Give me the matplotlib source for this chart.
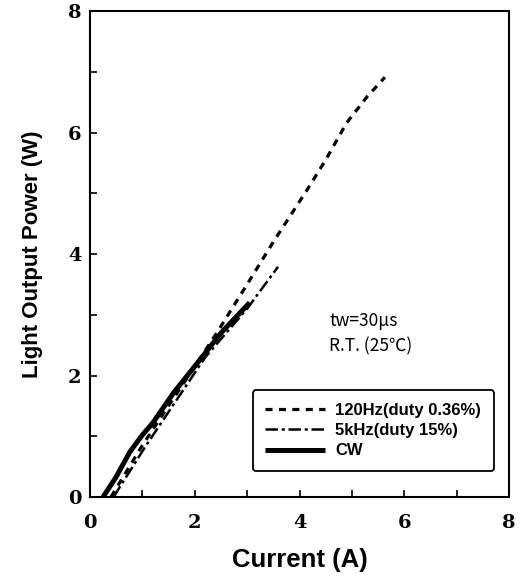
import matplotlib.pyplot as plt

i_120hz = [0.40, 1.00, 1.50, 2.00, 2.42, 3.05, 3.50, 4.14, 4.50, 4.90, 5.30, 5.63]
p_120hz = [0.00, 0.85, 1.50, 2.15, 2.70, 3.57, 4.20, 5.05, 5.55, 6.16, 6.60, 6.91]

i_5khz = [0.45, 1.05, 1.50, 2.20, 3.00, 3.59]
p_5khz = [0.00, 0.82, 1.40, 2.30, 3.10, 3.79]

i_cw = [0.25, 0.50, 0.76, 1.00, 1.20, 1.60, 2.00, 2.50, 3.05]
p_cw = [0.00, 0.33, 0.74, 1.02, 1.22, 1.72, 2.15, 2.70, 3.20]

labels = ["120Hz(duty 0.36%)", "5kHz(duty 15%)", "CW"]
x_ticks = [0, 2, 4, 6, 8]
y_ticks = [0, 2, 4, 6, 8]

fig = plt.figure(figsize=(5.2, 5.81), dpi=100)
ax = fig.add_axes([0.173, 0.1446, 0.806, 0.8364])

ax.plot(i_120hz, p_120hz, color="black", lw=2.3, dashes=(2.2, 2.0), label=labels[0])
ax.plot(i_5khz, p_5khz, color="black", lw=1.8, dashes=(5, 1.5, 1.2, 1.5), label=labels[1])
ax.plot(i_cw, p_cw, color="black", lw=3.6, solid_capstyle="butt", label=labels[2])

ax.set_xlim(0, 8)
ax.set_ylim(0, 8)
ax.set_xticks(range(9))
ax.set_yticks(range(9))
ax.set_xticklabels([str(v) if v in x_ticks else "" for v in range(9)])
ax.set_yticklabels([str(v) if v in y_ticks else "" for v in range(9)])
ax.tick_params(direction="in", length=5, width=1.2, top=False, right=False)
ax.tick_params(axis="x", pad=12)
ax.tick_params(axis="y", pad=6)
for lab in ax.get_xticklabels() + ax.get_yticklabels():
    lab.set_family("DejaVu Serif")
    lab.set_fontweight("bold")
    lab.set_fontsize(14)
for sp in ax.spines.values():
    sp.set_linewidth(1.5)

ax.set_xlabel("Current (A)", fontsize=18.5, fontweight="bold", family="Liberation Sans", labelpad=12)
ax.set_ylabel("Light Output Power (W)", fontsize=16, fontweight="bold", family="Liberation Sans", labelpad=18)

ax.text(0.571, 0.363, "tw=30\u03bcs", transform=ax.transAxes, fontsize=12.5,
        family=["Noto Sans CJK JP", "DejaVu Sans"], va="center")
ax.text(0.571, 0.310, "R.T. (25\u2103)", transform=ax.transAxes, fontsize=12.5,
        family=["Noto Sans CJK JP", "DejaVu Sans"], va="center")

leg = ax.legend(loc="lower left", bbox_to_anchor=(0.389, 0.0535), borderaxespad=0,
                frameon=True, fancybox=True, handlelength=3.6, handletextpad=0.6,
                labelspacing=0.32, borderpad=0.75,
                prop={"family": "Liberation Sans", "weight": "bold", "size": 12})
leg.get_frame().set_edgecolor("black")
leg.get_frame().set_linewidth(1.3)
leg.get_frame().set_alpha(1)

fig.savefig("out.png", dpi=100)
